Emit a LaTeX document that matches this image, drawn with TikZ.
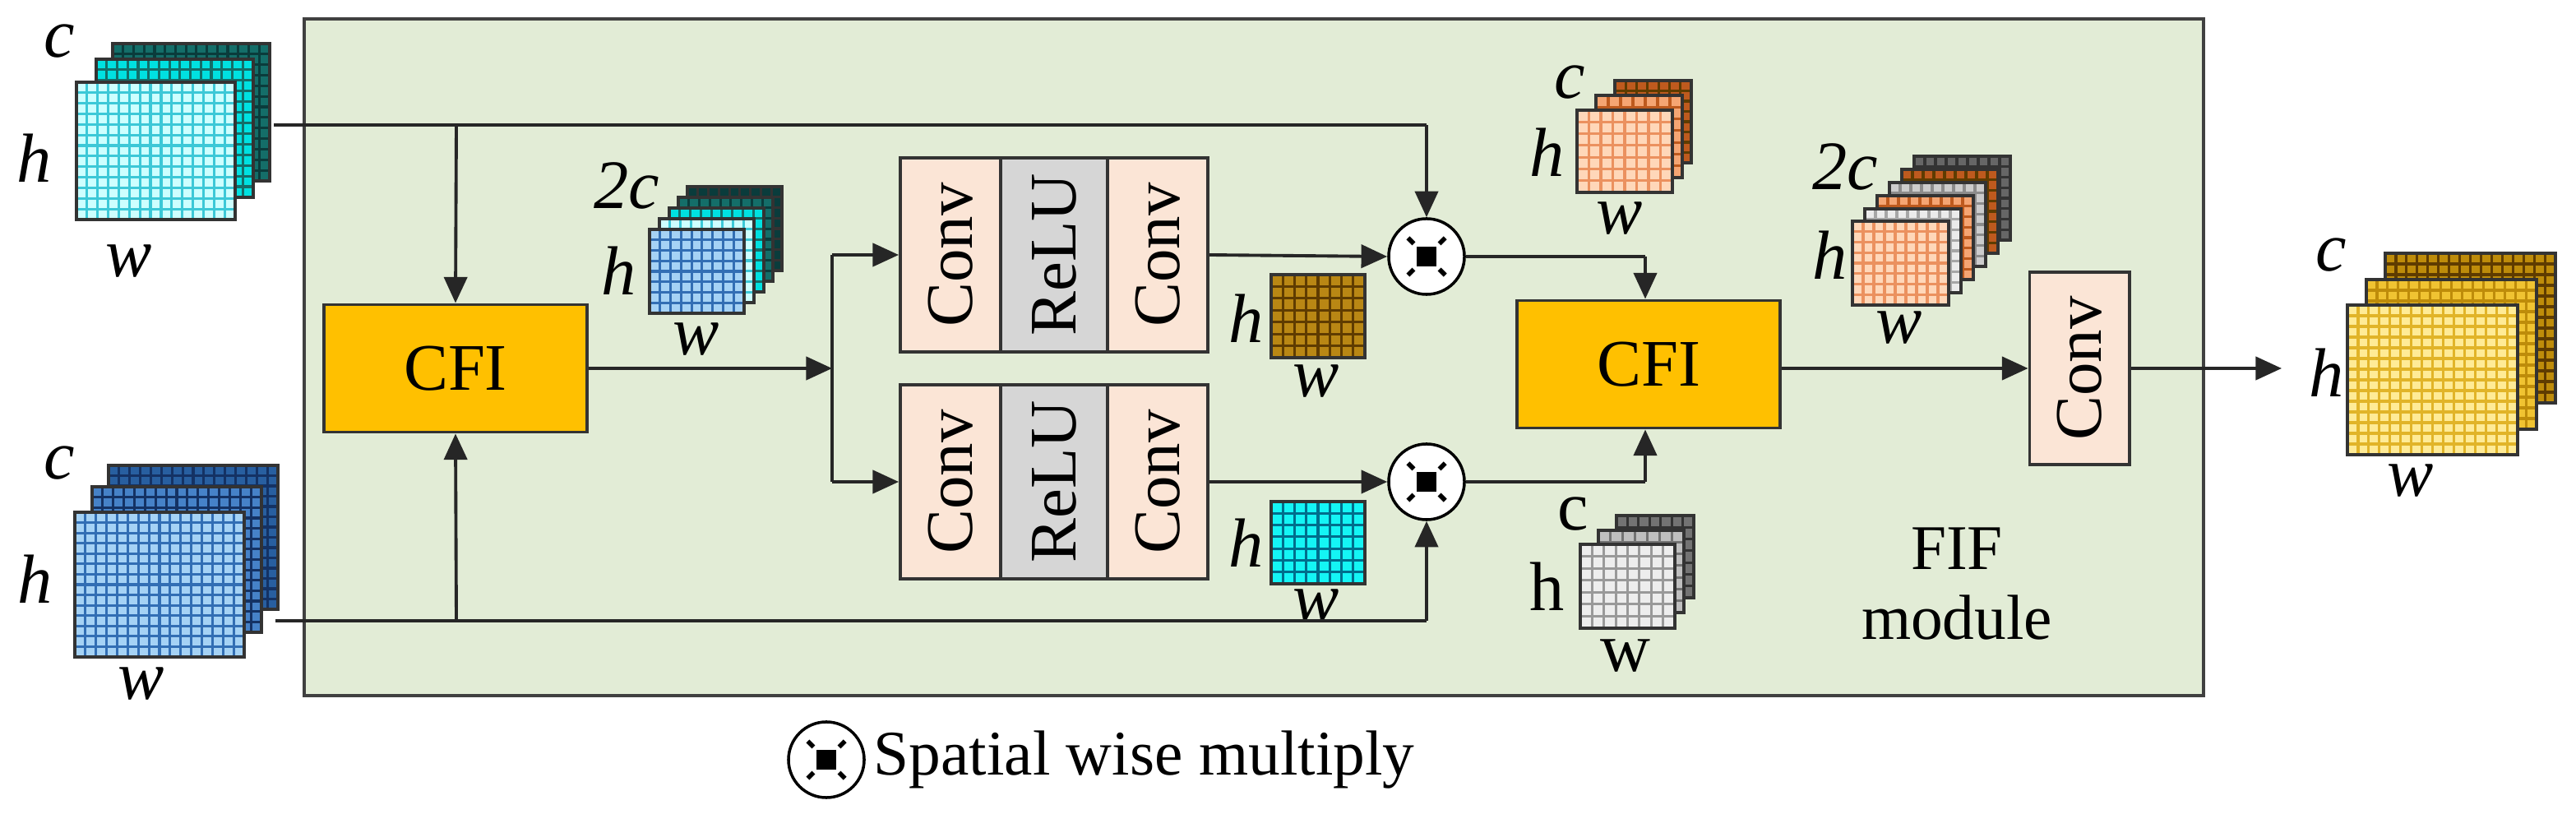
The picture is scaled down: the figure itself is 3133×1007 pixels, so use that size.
\documentclass[tikz,border=0pt]{standalone}
\usepackage{fontspec}
\setmainfont{Liberation Serif}
\usetikzlibrary{arrows.meta,calc}
\definecolor{bggreen}{RGB}{226,236,214}
\definecolor{cfiorange}{RGB}{255,192,0}
\definecolor{peach}{RGB}{251,229,214}
\definecolor{relugray}{RGB}{214,214,214}
\definecolor{tealD}{RGB}{20,110,105}
\definecolor{tealDD}{RGB}{10,60,60}
\definecolor{cyanM}{RGB}{0,225,225}
\definecolor{cyanL}{RGB}{205,255,255}
\definecolor{cyanG}{RGB}{60,200,215}
\definecolor{blueD}{RGB}{40,95,160}
\definecolor{blueDD}{RGB}{20,50,100}
\definecolor{blueM}{RGB}{70,130,200}
\definecolor{blueL}{RGB}{165,210,245}
\definecolor{blueG}{RGB}{50,110,180}
\definecolor{goldF}{RGB}{185,135,20}
\definecolor{goldG}{RGB}{95,60,0}
\definecolor{cyanS}{RGB}{20,245,245}
\definecolor{cyanSG}{RGB}{0,110,140}
\definecolor{orD}{RGB}{190,90,30}
\definecolor{orM}{RGB}{245,165,115}
\definecolor{orL}{RGB}{255,215,185}
\definecolor{orG}{RGB}{235,145,95}
\definecolor{yD}{RGB}{190,140,10}
\definecolor{yM}{RGB}{240,195,50}
\definecolor{yL}{RGB}{255,235,150}
\definecolor{yG}{RGB}{225,180,40}
\newcommand\fmx[7]{% x1 y1 x2 y2 fill grid ncells
  \fill[#5] (#1,#2) rectangle (#3,#4);
  \pgfmathsetmacro\fmstep{(#3-#1)/#7}
  \pgfmathtruncatemacro\fmny{round((#4-#2)/\fmstep)}
  \pgfmathsetmacro\fmsy{(#4-#2)/\fmny}
  \pgfmathtruncatemacro\fmnx{#7-1}
  \pgfmathtruncatemacro\fmnyy{\fmny-1}
  \foreach \i in {1,...,\fmnx}{\draw[#6,line width=0.9pt] ({#1+\i*\fmstep},#2) -- ({#1+\i*\fmstep},#4);}
  \foreach \j in {1,...,\fmnyy}{\draw[#6,line width=0.9pt] (#1,{#2+\j*\fmsy}) -- (#3,{#2+\j*\fmsy});}
  \draw[black!80,line width=1pt] (#1,#2) rectangle (#3,#4);
}
\tikzset{
  conn/.style={line width=1.1pt,draw=black!85},
  arr/.style={conn,-{Triangle[length=9pt,width=8pt]}},
  box/.style={draw=black!80,line width=1.1pt,inner sep=0pt},
  cfi/.style={box,fill=cfiorange,minimum width=3.2cm,minimum height=1.55cm,font=\fontsize{23}{23}\selectfont},
  cv/.style={box,fill=peach,minimum height=1.22cm,minimum width=2.36cm,rotate=90,font=\fontsize{23}{23}\selectfont},
  lab/.style={font=\fontsize{24}{24}\selectfont\itshape,inner sep=0pt},
  ulab/.style={font=\fontsize{24}{24}\selectfont,inner sep=0pt},
  mult/.style={circle,draw=black,fill=white,line width=1pt,minimum size=0.92cm,inner sep=0pt},
}
\newcommand\multsym[1]{%
  \fill[black] ($(#1)+(-12,-12)$) rectangle ($(#1)+(12,12)$);
  \foreach \a in {45,135,225,315}{\draw[black,line width=1.6pt] ($(#1)+(\a:22)$) -- ($(#1)+(\a:32)$);}
}
\begin{document}
\begin{tikzpicture}[x=0.01cm,y=-0.01cm]
\useasboundingbox (0,0) rectangle (3133,1007);
% module background
\node[draw=black!75,line width=1.2pt,fill=bggreen,minimum width=23.08cm,minimum height=8.23cm,inner sep=0pt] (fif) at (1525,434.5) {};
% input 1 stack
\fmx{137}{53}{328}{220}{tealD}{tealDD}{15}
\fmx{117}{72}{308}{240}{cyanM}{tealD}{15}
\fmx{93}{100}{286}{267}{cyanL}{cyanG}{15}
\node[lab] (c1) at (72,50) {c};
\node[lab] (h1) at (42,192) {h};
\node[lab] (w1) at (157,318) {w};
% input 2 stack
\fmx{132}{566}{338}{741}{blueD}{blueDD}{16}
\fmx{112}{592}{318}{769}{blueM}{blueDD}{16}
\fmx{91}{623}{297}{799}{blueL}{blueG}{16}
\node[lab] (c2) at (72,563) {c};
\node[lab] (h2) at (43,704) {h};
\node[lab] (w2) at (172,832) {w};
% CFI 1
\node[cfi] (cfiA) at (554,448) {CFI};
% 2c stack
\fmx{836}{227}{951}{329}{tealDD}{black!80}{9}
\fmx{825}{240}{940}{342}{tealD}{tealDD}{9}
\fmx{814}{253}{929}{355}{cyanM}{tealD}{9}
\fmx{802}{266}{917}{368}{cyanL}{cyanG}{9}
\fmx{790}{279}{905}{381}{blueL}{blueG}{9}
\node[lab] (l2c) at (762,226) {2c};
\node[lab] (lh3) at (753,329) {h};
\node[lab] (lw3) at (847,413) {w};
% Conv-ReLU-Conv blocks
\node[cv] (ca1) at (1156,310) {Conv};
\node[cv,fill=relugray,minimum height=1.30cm] (ra1) at (1282,310) {ReLU};
\node[cv] (cb1) at (1408,310) {Conv};
\node[cv] (ca2) at (1156,586) {Conv};
\node[cv,fill=relugray,minimum height=1.30cm] (ra2) at (1282,586) {ReLU};
\node[cv] (cb2) at (1408,586) {Conv};
% small maps
\fmx{1546}{334}{1660}{435}{goldF}{goldG}{8}
\node[lab] (hs1) at (1516,387) {h};
\node[lab] (ws1) at (1601,464) {w};
\fmx{1546}{610}{1660}{710}{cyanS}{cyanSG}{8}
\node[lab] (hs2) at (1516,660) {h};
\node[lab] (ws2) at (1601,737) {w};
% multiply
\node[mult] (m1) at (1735,312) {};
\node[mult] (m2) at (1735,586) {};
\multsym{m1}\multsym{m2}
% CFI 2
\node[cfi] (cfiB) at (2005,443) {CFI};
% orange stack
\fmx{1964}{98}{2057}{198}{orD}{goldG}{7}
\fmx{1941}{116}{2046}{216}{orM}{orD}{7}
\fmx{1918}{134}{2034}{234}{orL}{orG}{8}
\node[lab] (c3) at (1909,100) {c};
\node[lab] (h3) at (1882,185) {h};
\node[lab] (w3) at (1970,266) {w};
% gray stack
\fmx{1966}{627}{2060}{727}{black!55}{black!80}{7}
\fmx{1944}{645}{2048}{745}{black!25}{black!55}{7}
\fmx{1922}{662}{2037}{764}{black!7}{black!40}{8}
\node[ulab] (c4) at (1913,625) {c};
\node[ulab] (h4) at (1882,713) {h};
\node[ulab] (w4) at (1977,798) {w};
% 2c orange-gray stack
\fmx{2328}{190}{2445}{292}{black!60}{black!80}{9}
\fmx{2313}{206}{2430}{308}{orD}{goldG}{9}
\fmx{2298}{222}{2415}{324}{black!20}{black!45}{9}
\fmx{2283}{238}{2400}{340}{orM}{orD}{9}
\fmx{2268}{254}{2385}{356}{black!8}{black!35}{9}
\fmx{2253}{269}{2370}{371}{orL}{orG}{9}
\node[lab] (l2c2) at (2244,203) {2c};
\node[lab] (h5) at (2226,310) {h};
\node[lab] (w5) at (2310,399) {w};
% conv final
\node[box,fill=peach,minimum width=2.34cm,minimum height=1.21cm,rotate=90,font=\fontsize{23}{23}\selectfont] (cvF) at (2529,448) {Conv};
% output stack
\fmx{2901}{308}{3108}{490}{yD}{goldG}{16}
\fmx{2878}{340}{3085}{522}{yM}{yD}{16}
\fmx{2855}{371}{3062}{553}{yL}{yG}{16}
\node[lab] (c6) at (2835,310) {c};
\node[lab] (h6) at (2830,453) {h};
\node[lab] (w6) at (2932,585) {w};
% FIF module text
\node[font=\fontsize{22}{22}\selectfont,align=center] (fiftxt) at (2380,710) {FIF\\[2pt]module};
% coordinates
\coordinate (s1) at (333,152);
\coordinate (s2) at (335,755);
\coordinate (t1) at (555,152);
\coordinate (t2) at (555,755);
\coordinate (tm1) at (1735,152);
\coordinate (tm2) at (1735,755);
\coordinate (sp) at (1012,448);
\coordinate (spu) at (1012,310);
\coordinate (spd) at (1012,586);
\coordinate (o1) at (2001,312);
\coordinate (o2) at (2001,586);
\coordinate (outend) at (2775,448);
% connectors
\draw[conn] (s1) -- (tm1);
\draw[arr] (tm1) -- (m1.north);
\draw[arr] (t1) -- (cfiA.north);
\draw[conn] (s2) -- (tm2);
\draw[arr] (tm2) -- (m2.south);
\draw[arr] (t2) -- (cfiA.south);
\draw[arr] (cfiA.east) -- (sp);
\draw[conn] (spu) -- (spd);
\draw[arr] (spu) -- (ca1.north);
\draw[arr] (spd) -- (ca2.north);
\draw[arr] (cb1.south) -- (m1.west);
\draw[arr] (cb2.south) -- (m2.west);
\draw[conn] (m1.east) -- (o1);
\draw[arr] (o1) -- (cfiB.north -| o1);
\draw[conn] (m2.east) -- (o2);
\draw[arr] (o2) -- (cfiB.south -| o2);
\draw[arr] (cfiB.east |- cvF.center) -- (cvF.north);
\draw[arr] (cvF.south) -- (outend);
% legend
\node[mult] (lg) at (1005,924) {};
\multsym{lg}
\node[anchor=west,font=\fontsize{22}{22}\selectfont,inner sep=0pt] (lgt) at (1062,924) {Spatial wise multiply};
\end{tikzpicture}
\end{document}
